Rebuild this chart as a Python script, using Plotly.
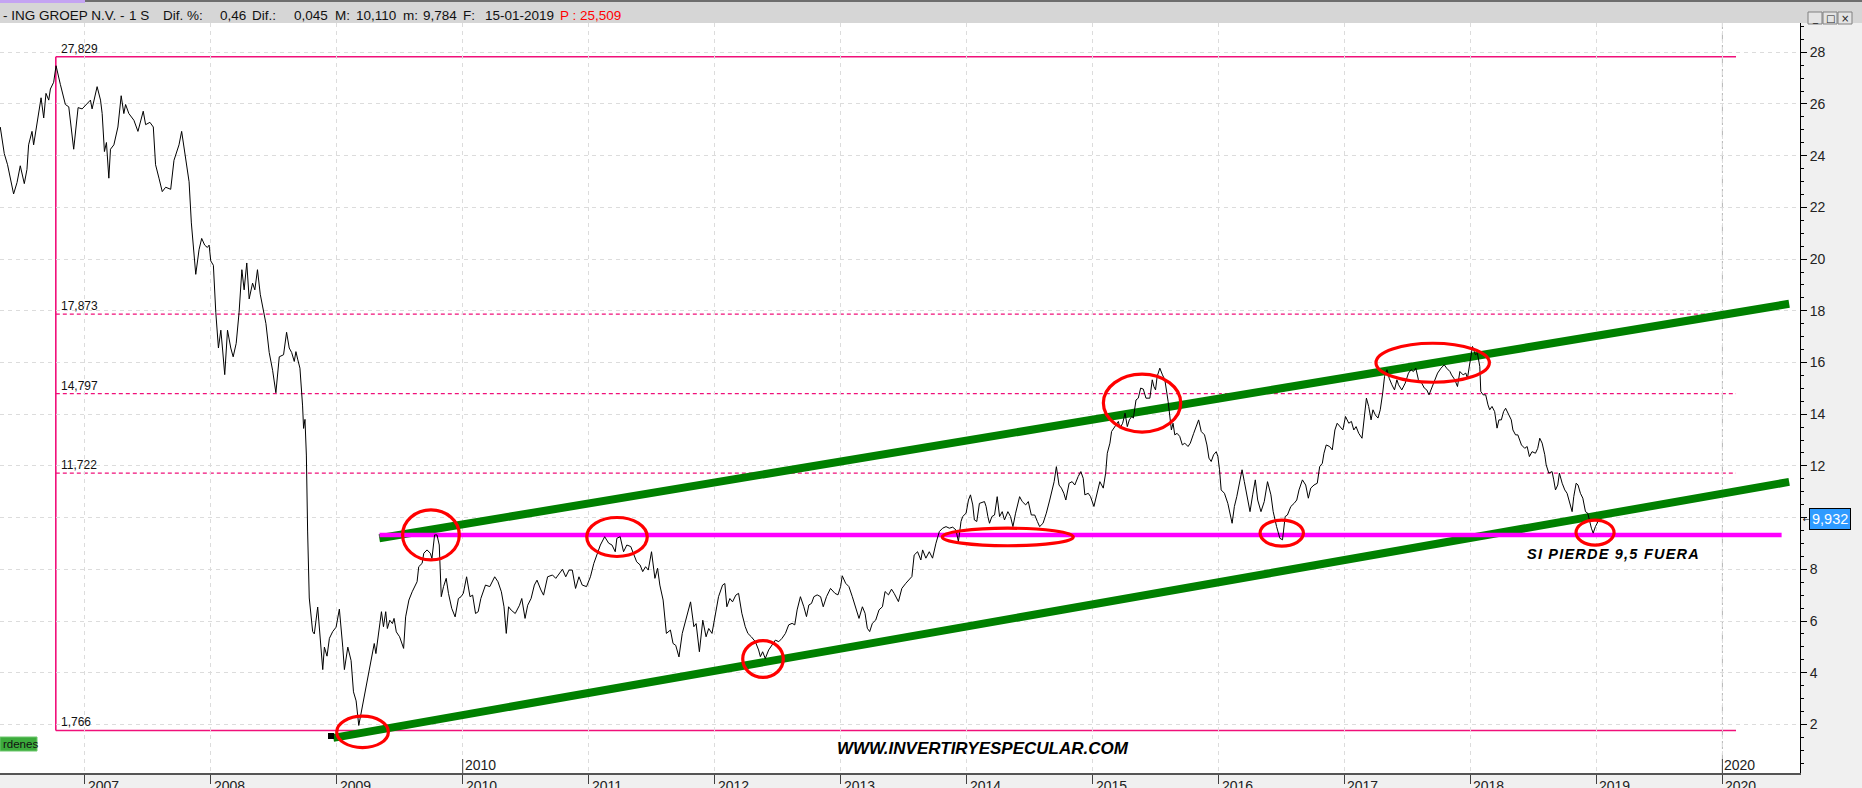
import plotly.graph_objects as go

# ---------------- data ----------------
years = [
 2006.329,2006.361,2006.387,2006.435,2006.462,2006.488,2006.520,2006.541,2006.554,2006.581,2006.594,2006.621,
 2006.653,2006.674,2006.692,2006.714,2006.727,2006.753,2006.772,2006.806,2006.846,2006.873,2006.912,2006.947,
 2006.979,2007.045,2007.058,2007.098,2007.125,2007.138,2007.156,2007.172,2007.191,2007.204,2007.231,2007.263,
 2007.289,2007.310,2007.324,2007.350,2007.390,2007.422,2007.464,2007.483,2007.517,2007.544,2007.562,2007.589,
 2007.615,2007.642,2007.682,2007.708,2007.748,2007.769,2007.801,2007.828,2007.846,2007.862,2007.881,2007.907,
 2007.928,2007.952,2007.973,2007.987,2008.000,2008.021,2008.040,2008.061,2008.080,2008.093,2008.111,2008.133,
 2008.159,2008.178,2008.202,2008.225,2008.247,2008.265,2008.286,2008.305,2008.332,2008.350,2008.371,2008.393,
 2008.416,2008.438,2008.464,2008.491,2008.517,2008.544,2008.578,2008.602,2008.623,2008.642,2008.663,2008.676,
 2008.690,2008.708,2008.729,2008.737,2008.748,2008.759,2008.769,2008.782,2008.809,2008.822,2008.849,2008.870,
 2008.889,2008.902,2008.923,2008.942,2008.968,2008.995,2009.021,2009.048,2009.061,2009.088,2009.114,2009.133,
 2009.154,2009.175,
 2009.232,2009.258,2009.284,2009.298,2009.311,2009.337,2009.355,2009.371,2009.389,2009.402,2009.421,2009.442,
 2009.455,2009.473,2009.499,2009.531,2009.547,2009.573,2009.599,2009.638,2009.651,2009.678,2009.691,2009.717,
 2009.743,2009.756,2009.777,2009.796,2009.814,2009.830,2009.848,2009.869,2009.887,2009.913,2009.940,2009.966,
 2009.987,2010.005,2010.031,2010.058,2010.079,2010.102,2010.123,2010.144,2010.181,2010.215,2010.254,2010.280,
 2010.307,2010.328,2010.346,2010.364,2010.385,2010.417,2010.451,2010.469,2010.495,2010.516,2010.543,2010.569,
 2010.590,2010.621,2010.642,2010.674,2010.713,2010.739,2010.765,2010.792,2010.818,2010.844,2010.870,2010.896,
 2010.923,2010.949,2010.983,2011.014,2011.041,2011.067,2011.093,2011.127,2011.159,2011.185,2011.211,2011.224,
 2011.250,2011.277,2011.303,2011.334,2011.355,2011.381,2011.408,2011.429,2011.452,2011.473,2011.499,2011.526,
 2011.547,2011.565,2011.591,2011.617,2011.649,2011.670,2011.691,2011.717,2011.743,2011.775,2011.809,2011.835,
 2011.853,2011.879,2011.906,2011.932,2011.953,2011.979,2012.005,2012.031,2012.063,2012.081,2012.097,2012.121,
 2012.142,2012.168,
 2012.190,2012.216,2012.243,2012.264,2012.291,2012.323,2012.349,2012.363,2012.381,2012.402,2012.429,2012.455,
 2012.482,2012.509,2012.535,2012.562,2012.588,2012.615,2012.636,2012.655,2012.681,2012.708,2012.729,2012.748,
 2012.769,2012.788,2012.814,2012.841,2012.862,2012.888,2012.920,2012.955,2012.979,2013.000,2013.013,2013.040,
 2013.066,2013.093,2013.120,2013.146,2013.173,2013.194,2013.212,2013.231,2013.252,2013.279,2013.305,2013.332,
 2013.353,2013.380,2013.404,2013.425,2013.459,2013.486,2013.518,2013.544,2013.566,2013.584,2013.611,2013.637,
 2013.651,2013.677,2013.704,2013.730,2013.757,2013.784,2013.810,2013.837,2013.863,2013.890,2013.916,2013.935,
 2013.956,2013.969,2013.996,2014.015,2014.031,2014.049,2014.062,2014.081,2014.102,2014.142,2014.155,2014.169,
 2014.182,2014.201,2014.222,2014.243,2014.262,2014.283,2014.301,2014.328,2014.349,2014.368,2014.389,2014.421,
 2014.442,2014.469,2014.490,2014.514,2014.541,2014.562,2014.580,2014.607,2014.633,2014.660,2014.679,2014.695,
 2014.713,2014.734,2014.753,2014.772,2014.788,2014.814,2014.838,2014.859,2014.886,2014.907,2014.926,2014.939,
 2014.966,2014.984,2015.011,2015.037,2015.058,2015.085,2015.104,2015.117,2015.138,2015.151,2015.178,2015.205,
 2015.218,2015.239,2015.258,2015.276,2015.292,2015.311,2015.324,2015.345,2015.363,2015.382,2015.403,2015.424,
 2015.455,2015.474,2015.487,2015.500,2015.513,2015.534,2015.555,2015.574,2015.600,2015.613,2015.626,2015.639,
 2015.653,2015.671,2015.692,2015.713,2015.732,2015.758,2015.776,2015.803,2015.824,2015.842,2015.863,2015.889,
 2015.908,2015.924,2015.942,2015.961,2015.982,2015.995,2016.008,2016.021,2016.047,2016.074,2016.108,2016.126,
 2016.145,2016.166,2016.187,2016.205,2016.224,2016.250,2016.271,2016.292,2016.311,2016.337,2016.363,2016.389,
 2016.416,2016.434,2016.461,2016.487,2016.508,2016.529,2016.547,2016.574,2016.600,2016.621,2016.639,2016.666,
 2016.692,2016.713,2016.732,2016.758,2016.784,2016.803,2016.824,2016.837,2016.855,2016.882,2016.903,2016.924,
 2016.942,2016.968,2016.987,2017.008,2017.034,2017.055,2017.074,2017.092,2017.113,2017.139,2017.161,2017.174,
 2017.192,2017.211,2017.226,2017.245,2017.266,2017.284,2017.303,2017.318,2017.337,2017.355,2017.376,2017.397,
 2017.416,2017.429,2017.455,2017.482,2017.508,2017.529,2017.547,2017.566,2017.587,2017.613,2017.634,2017.653,
 2017.671,2017.692,2017.713,2017.739,2017.766,2017.792,2017.811,2017.837,2017.850,2017.876,2017.897,2017.916,
 2017.942,2017.963,2017.976,2017.995,2018.016,2018.039,2018.055,2018.074,2018.082,2018.100,2018.121,2018.139,
 2018.153,2018.171,2018.192,2018.211,2018.226,2018.245,2018.263,2018.279,2018.297,2018.324,2018.337,2018.358,
 2018.376,
 2018.405,2018.431,2018.450,2018.468,2018.489,2018.516,2018.534,2018.550,2018.569,2018.590,2018.601,2018.622,
 2018.648,2018.661,2018.675,2018.693,2018.706,2018.728,2018.749,2018.767,2018.788,2018.807,2018.820,2018.839,
 2018.854,2018.873,2018.892,2018.913,2018.931,2018.944,2018.960,2018.974,2018.992,2019.013,2019.040]

prices = [
 25.11,24.08,23.65,22.52,22.96,23.61,22.92,23.47,24.42,24.94,24.42,25.29,
 26.24,25.46,26.41,26.15,26.58,26.84,27.48,26.76,25.98,25.89,24.25,25.86,
 25.81,26.15,25.81,26.67,26.15,25.63,24.16,24.51,23.13,24.25,24.42,25.11,
 26.32,25.63,25.98,25.63,25.37,24.94,25.72,25.20,25.29,25.11,23.65,23.13,
 22.61,22.78,22.70,23.82,24.42,24.94,23.82,22.99,21.40,20.54,19.41,20.36,
 20.80,20.54,20.45,20.54,19.93,19.76,17.94,16.56,17.25,16.56,15.53,17.25,
 16.56,16.22,16.74,17.94,19.59,18.81,19.85,18.46,19.07,18.81,19.59,18.64,
 18.12,17.51,16.39,15.70,14.83,16.22,16.30,17.17,16.56,16.39,16.04,16.42,
 16.13,15.78,14.32,13.45,13.80,12.42,9.48,6.89,5.59,5.50,6.54,5.33,
 4.12,4.99,4.64,5.33,5.59,5.76,6.46,4.99,4.12,4.99,4.47,3.26,
 2.91,1.96,
 3.45,4.22,4.81,5.13,4.74,5.78,6.36,5.78,6.36,5.71,6.03,5.90,
 6.10,5.58,5.39,4.94,6.16,6.81,7.13,7.52,8.10,8.23,8.62,8.75,
 8.62,8.42,9.33,9.33,8.94,6.94,7.33,7.65,7.07,6.49,6.16,6.87,
 6.94,7.07,7.71,6.94,7.00,6.29,6.36,6.87,7.39,7.33,7.71,7.52,
 7.13,6.55,5.52,6.55,6.42,6.29,6.61,6.87,6.10,6.61,6.87,7.39,
 7.58,7.20,7.00,7.71,7.78,7.65,7.84,8.00,7.71,7.97,7.97,7.26,
 7.71,7.39,7.33,7.71,8.23,8.62,8.94,9.26,9.01,8.94,8.68,9.20,
 9.26,8.68,8.94,8.88,8.62,8.29,8.17,7.91,8.10,7.97,8.68,7.65,
 8.04,7.39,6.81,5.52,5.65,5.13,5.06,4.61,5.52,6.16,6.74,5.78,
 5.90,4.81,6.03,5.39,5.71,5.52,6.16,6.94,7.39,7.45,6.55,6.87,
 6.74,7.00,
 7.07,6.30,5.78,5.52,5.39,5.20,4.88,4.62,4.81,4.55,4.88,5.07,
 5.26,5.20,5.33,5.52,5.85,5.91,5.85,6.43,6.94,6.55,6.17,6.62,
 6.68,6.94,7.01,6.94,6.55,6.94,7.26,7.07,7.01,7.33,7.75,7.46,
 7.33,6.94,6.55,6.10,6.55,6.30,5.72,5.59,5.91,6.04,6.43,6.55,
 7.14,7.01,7.23,7.07,6.75,7.26,7.46,7.61,7.72,8.55,8.68,8.36,
 8.75,8.43,8.68,8.43,9.01,9.46,9.59,9.65,9.59,9.63,9.52,9.07,
 9.85,10.04,10.17,10.68,10.88,10.49,9.91,9.85,10.55,10.62,10.43,10.04,
 9.78,10.04,10.10,10.81,10.04,10.23,9.91,10.23,10.04,9.65,10.17,10.81,
 10.62,10.49,10.62,10.10,10.10,9.85,9.65,9.78,10.17,10.68,11.07,11.39,
 11.97,11.26,11.14,10.94,10.68,11.33,11.39,11.26,11.59,11.78,11.52,10.88,
 10.94,10.81,10.43,11.01,11.39,11.14,11.72,12.49,12.88,13.33,13.52,13.72,
 13.46,13.65,14.04,13.52,13.78,13.91,13.85,14.55,14.62,15.01,14.97,14.62,
 14.62,15.33,15.07,14.94,15.46,15.78,15.52,15.33,14.49,13.91,13.39,13.65,
 13.20,13.26,13.14,12.81,12.88,12.75,12.88,13.26,13.52,13.78,13.33,13.20,
 12.81,12.30,12.17,12.43,12.55,12.36,11.85,11.07,10.94,10.55,9.78,10.43,
 10.81,11.33,11.85,11.39,10.94,10.23,10.88,11.46,10.68,10.23,10.62,11.39,
 10.88,10.23,9.65,9.20,9.14,10.04,10.10,10.43,10.55,10.68,11.07,11.46,
 11.26,10.75,11.14,11.26,11.33,11.97,12.10,12.49,12.81,12.75,12.62,13.39,
 13.65,13.52,13.39,13.91,13.65,13.72,13.39,13.52,13.26,13.07,14.04,14.62,
 14.30,13.78,14.17,13.97,13.85,14.17,14.81,15.46,15.72,15.39,15.14,14.94,
 15.33,15.14,14.94,15.20,15.59,15.72,15.65,15.78,15.33,15.20,15.01,14.94,
 14.75,15.01,15.20,15.59,15.78,15.91,15.78,15.65,15.52,15.33,15.07,15.65,
 15.52,15.59,15.39,15.97,16.62,16.30,16.36,15.85,14.88,14.75,14.75,14.36,
 14.17,14.30,14.10,13.46,13.78,13.78,14.10,14.23,14.04,13.78,13.39,13.20,
 13.20,
 12.81,12.68,12.75,12.36,12.55,12.49,12.68,13.07,12.88,12.43,12.04,11.72,
 11.78,11.46,11.07,11.26,11.72,11.33,11.07,10.94,10.55,10.23,10.81,11.33,
 11.26,10.94,10.75,10.23,10.17,9.85,9.59,9.40,9.65,9.85,9.93]

last_value = 9.932
last_label = "9,932"

# Fibonacci retracement levels
fib_levels = [27.829, 17.873, 14.797, 11.722, 1.766]
fib_labels = ["27,829", "17,873", "14,797", "11,722", "1,766"]
fib_dashed = [False, True, True, True, False]
fib_x_start = 2006.77
fib_x_end = 2020.108

# channel and support lines (hand-drawn)
upper_x = [2009.338, 2020.53]
upper_y = [9.20, 18.27]
lower_x = [2008.973, 2020.53]
lower_y = [1.48, 11.38]
support_x = [2009.34, 2020.47]
support_y = [9.33, 9.33]

# red ellipses: center year, center value, half-width (years), half-height (value)
ellipse_cx = [2009.205, 2009.748, 2011.225, 2012.384, 2014.327, 2015.393, 2017.700, 2016.502, 2018.989]
ellipse_cy = [1.71, 9.33, 9.25, 4.53, 9.25, 14.43, 15.99, 9.40, 9.42]
ellipse_rx = [0.205, 0.225, 0.240, 0.161, 0.520, 0.307, 0.450, 0.172, 0.151]
ellipse_ry = [0.607, 0.967, 0.754, 0.708, 0.340, 1.120, 0.754, 0.503, 0.484]

year_ticks = list(range(2007, 2021))
year_labels = [str(y) for y in year_ticks]
marked_years = [2010, 2020]
y_ticks = list(range(2, 29, 2))
y_ticktext = ["" if v == 10 else str(v) for v in y_ticks]   # "10" is hidden under the last-value box

header_parts = [("- ING GROEP N.V. -", 1), ("1 S", 127), ("Dif. %:", 161), ("0,46", 218),
                ("Dif.:", 250), ("0,045", 292), ("M:", 333), ("10,110", 354), ("m:", 401),
                ("9,784", 421), ("F:", 461), ("15-01-2019", 483)]
header_red = ("P : 25,509", 558)

# ---------------- layout geometry ----------------
W, H = 1862, 788
ML, MR, MT, MB = 0, 62, 23, 15
PW, PH = W - ML - MR, H - MT - MB
X_RANGE = [2006.327, 2020.616]
Y_RANGE = [0.12, 29.133]

def px_x(px):   # pixel x -> paper
    return (px - ML) / PW

def px_y(py):   # pixel y (from top) -> paper
    return (H - MB - py) / PH

SANS = "Liberation Sans, Arial, sans-serif"
FIB_COLOR = "#f0107a"

fig = go.Figure()

fig.add_trace(go.Scatter(x=upper_x, y=upper_y, mode="lines",
                         line=dict(color="#008000", width=8), hoverinfo="skip"))
fig.add_trace(go.Scatter(x=lower_x, y=lower_y, mode="lines",
                         line=dict(color="#008000", width=8), hoverinfo="skip"))
fig.add_trace(go.Scatter(x=support_x, y=support_y, mode="lines",
                         line=dict(color="#ff00ff", width=4.5), hoverinfo="skip"))
fig.add_trace(go.Scatter(x=years, y=prices, mode="lines",
                         line=dict(color="black", width=1), hoverinfo="skip"))

shapes = []
for lvl, dashed in zip(fib_levels, fib_dashed):
    shapes.append(dict(type="line", xref="x", yref="y", x0=fib_x_start, x1=fib_x_end, y0=lvl, y1=lvl,
                       line=dict(color=FIB_COLOR, width=1.6 if not dashed else 1.3,
                                 dash="solid" if not dashed else "4px,3px"), layer="below"))
shapes.append(dict(type="line", xref="x", yref="y", x0=fib_x_start, x1=fib_x_start,
                   y0=min(fib_levels), y1=max(fib_levels),
                   line=dict(color=FIB_COLOR, width=1.6), layer="below"))
for cx, cy, rx, ry in zip(ellipse_cx, ellipse_cy, ellipse_rx, ellipse_ry):
    shapes.append(dict(type="circle", xref="x", yref="y", x0=cx - rx, x1=cx + rx, y0=cy - ry, y1=cy + ry,
                       line=dict(color="#ff0000", width=3.2), layer="above"))
shapes.append(dict(type="line", xref="x", yref="paper", x0=2020, x1=2020, y0=0, y1=1,
                   line=dict(color="#b4b4b4", width=1, dash="8px,4px"), layer="below"))
for yr in marked_years:
    shapes.append(dict(type="line", xref="x", yref="paper", x0=yr, x1=yr, y0=0, y1=px_y(759),
                       line=dict(color="#404040", width=1), layer="above"))
# header bar
shapes.append(dict(type="rect", xref="paper", yref="paper", x0=px_x(0), x1=px_x(W), y0=px_y(23), y1=px_y(0),
                   fillcolor="#d6d6d6", line=dict(width=0), layer="above"))
shapes.append(dict(type="rect", xref="paper", yref="paper", x0=px_x(85), x1=px_x(W), y0=px_y(2), y1=px_y(0),
                   fillcolor="#6e6e6e", line=dict(width=0), layer="above"))
shapes.append(dict(type="rect", xref="paper", yref="paper", x0=px_x(0), x1=px_x(85), y0=px_y(3), y1=px_y(0),
                   fillcolor="#c4a4f2", line=dict(width=0), layer="above"))
for bx in (1808, 1823, 1838):
    shapes.append(dict(type="rect", xref="paper", yref="paper", x0=px_x(bx), x1=px_x(bx + 14),
                       y0=px_y(24), y1=px_y(12), fillcolor="#e4e4e4",
                       line=dict(color="#808080", width=1), layer="above"))
shapes.append(dict(type="rect", xref="paper", yref="paper", x0=px_x(0), x1=px_x(37), y0=px_y(751), y1=px_y(737),
                   fillcolor="#3cab3c", line=dict(color="#6cc86c", width=1), layer="above"))
shapes.append(dict(type="rect", xref="paper", yref="paper", x0=px_x(328), x1=px_x(334), y0=px_y(739), y1=px_y(733),
                   fillcolor="black", line=dict(width=0), layer="above"))

annotations = []
for lvl, lab in zip(fib_levels, fib_labels):
    annotations.append(dict(x=fib_x_start, y=lvl, xref="x", yref="y", text=lab, showarrow=False,
                            xanchor="left", yanchor="bottom", xshift=3, yshift=-1,
                            font=dict(family=SANS, size=12, color="#111")))
for yr, lab in zip(year_ticks, year_labels):
    annotations.append(dict(x=yr, y=px_y(786), xref="x", yref="paper", text=lab, showarrow=False,
                            xanchor="left", yanchor="middle", xshift=1,
                            font=dict(family=SANS, size=14, color="#222")))
for yr in marked_years:
    annotations.append(dict(x=yr, y=px_y(765), xref="x", yref="paper", text=str(yr), showarrow=False,
                            xanchor="left", yanchor="middle", xshift=0,
                            font=dict(family=SANS, size=14, color="#222")))
for txt, xx in header_parts:
    annotations.append(dict(x=px_x(xx), y=px_y(15), xref="paper", yref="paper", text=txt, showarrow=False,
                            xanchor="left", yanchor="middle",
                            font=dict(family=SANS, size=13.5, color="#111")))
annotations.append(dict(x=px_x(header_red[1]), y=px_y(15), xref="paper", yref="paper", text=header_red[0],
                        showarrow=False, xanchor="left", yanchor="middle",
                        font=dict(family=SANS, size=13.5, color="#ff0000")))
for g, bx in (("_", 1808), ("□", 1823), ("×", 1838)):
    annotations.append(dict(x=px_x(bx + 7), y=px_y(18), xref="paper", yref="paper", text=g, showarrow=False,
                            xanchor="center", yanchor="middle", font=dict(family="DejaVu Sans", size=10, color="#222")))
annotations.append(dict(x=px_x(1809), y=last_value, xref="paper", yref="y", text=last_label, showarrow=False,
                        xanchor="left", yanchor="middle", bgcolor="#2f9bff", bordercolor="#000", borderwidth=1,
                        borderpad=2, font=dict(family=SANS, size=14.5, color="white")))
annotations.append(dict(x=px_x(1801), y=last_value, xref="paper", yref="y", text="←", showarrow=False,
                        xanchor="left", yanchor="middle", font=dict(family="DejaVu Sans", size=8, color="#000")))
annotations.append(dict(x=2012.955, y=1.05, xref="x", yref="y", text="WWW.INVERTIRYESPECULAR.COM",
                        showarrow=False, xanchor="left", yanchor="middle",
                        font=dict(family=SANS, size=17, color="black", weight="bold", style="italic")))
si_text = "\u200a".join(list("SI PIERDE 9,5 FUERA"))
annotations.append(dict(x=2018.433, y=8.60, xref="x", yref="y", text=si_text,
                        showarrow=False, xanchor="left", yanchor="middle",
                        font=dict(family=SANS, size=14.5, color="black", weight="bold", style="italic")))
annotations.append(dict(x=px_x(1), y=px_y(744), xref="paper", yref="paper", text="rdenes", showarrow=False,
                        xanchor="left", yanchor="middle", font=dict(family=SANS, size=11.5, color="#111")))

fig.update_layout(
    width=W, height=H,
    margin=dict(l=ML, r=MR, t=MT, b=MB, pad=0, autoexpand=False),
    paper_bgcolor="#f0f0f0", plot_bgcolor="white",
    showlegend=False,
    shapes=shapes, annotations=annotations,
    xaxis=dict(range=X_RANGE, tickmode="array", tickvals=year_ticks, showticklabels=False,
               ticks="outside", ticklen=9, tickcolor="#404040", tickwidth=1, automargin=False,
               showgrid=True, gridcolor="#dcdcdc", griddash="4px,4px", gridwidth=1,
               showline=True, linecolor="#555555", linewidth=2, zeroline=False, fixedrange=True),
    yaxis=dict(range=Y_RANGE, side="right", tickmode="array", tickvals=y_ticks, ticktext=y_ticktext,
               automargin=False,
               ticks="outside", ticklen=6, tickcolor="black", tickwidth=1,
               minor=dict(dtick=0.5, tick0=0, ticklen=3, tickcolor="black", showgrid=False, ticks="outside"),
               tickfont=dict(family=SANS, size=14, color="#222"),
               showgrid=True, gridcolor="#dcdcdc", griddash="4px,4px", gridwidth=1,
               showline=True, linecolor="black", linewidth=1, zeroline=False, fixedrange=True),
)

fig.write_html("out.html", config={"displayModeBar": False},
               post_script="document.body.style.margin='0';document.body.style.overflow='hidden';")
